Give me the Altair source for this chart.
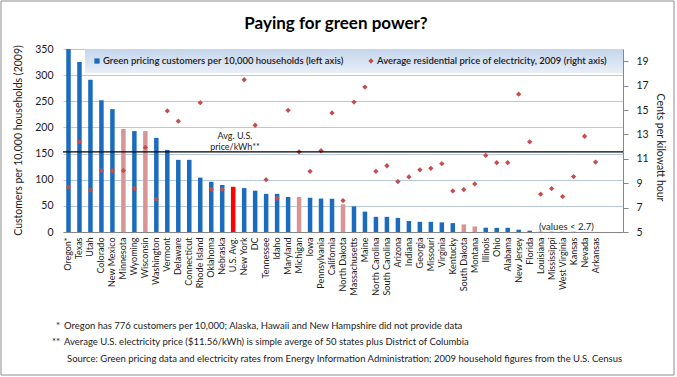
import altair as alt
import pandas as pd

states = ["Oregon*", "Texas", "Utah", "Colorado", "New Mexico", "Minnesota", "Wyoming",
          "Wisconsin", "Washington", "Vermont", "Delaware", "Connecticut", "Rhode Island",
          "Oklahoma", "Nebraska", "U.S. Avg.", "New York", "DC", "Tennessee", "Idaho",
          "Maryland", "Michigan", "Iowa", "Pennsylvania", "California", "North Dakota",
          "Massachusetts", "Maine", "North Carolina", "South Carolina", "Arizona", "Indiana",
          "Georgia", "Missouri", "Virginia", "Kentucky", "South Dakota", "Montana", "Illinois",
          "Ohio", "Alabama", "New Jersey", "Florida", "Louisiana", "Mississippi",
          "West Virginia", "Kansas", "Nevada", "Arkansas"]

customers = [776, 325, 291, 252, 235, 197, 193, 193, 180, 157, 138, 138, 104, 96, 90,
             86.5, 84, 79, 73, 73, 67, 67, 65.5, 64, 63.6, 53, 49, 39, 29, 29, 27, 21,
             19.5, 19.5, 18.4, 17, 14.5, 10.7, 8.2, 8, 8, 4.4, 2.5, 0.6, 0.5, 0.4, 0.3,
             0.2, 0.1]

prices = [8.67, 12.39, 8.45, 10.03, 10.03, 10.03, 8.56, 11.93, 7.66, 14.92, 14.08, 18.5,
          15.6, 8.5, 8.5, None, 17.48, 13.75, 9.29, 7.77, 14.97, 11.57, 9.97, 11.66, 14.76,
          7.58, 15.65, 16.88, 9.97, 10.43, 9.13, 9.51, 10.1, 10.22, 10.6, 8.37, 8.48, 8.94,
          11.28, 10.68, 10.68, 16.3, 12.39, 8.1, 8.56, 7.9, 9.54, 12.85, 10.73]

partial_states = ["Minnesota", "Wisconsin", "Michigan", "North Dakota", "South Dakota", "Montana"]
avg_label = "U.S. Avg."
us_avg_price = 11.56
blank_slots = [" ", "  "]
left_ticks = [0, 50, 100, 150, 200, 250, 300, 350]
right_ticks = [5, 7, 9, 11, 13, 15, 17, 19]

kind = ["avg" if s == avg_label else ("partial" if s in partial_states else "full") for s in states]
df = pd.DataFrame({"state": states, "customers": customers, "price": prices, "kind": kind})

FONT = "Lato"
BLUE = "#1b6cbf"
PINK = "#d99594"
RED = "#ff0000"
DIAMOND = "#c0504d"
TXT = "#1a1a1a"
W, H = 560, 183

x_enc = alt.X("state:N", sort=None,
              scale=alt.Scale(domain=states + blank_slots, paddingInner=0, paddingOuter=0),
              axis=alt.Axis(title=None, labelAngle=270, labelFontSize=9, labelPadding=5,
                            ticks=False, domainColor="#868686", labelColor=TXT,
                            labelFont=FONT, labelLimit=0))

bars = alt.Chart(df).mark_bar(size=4.5, clip=True).encode(
    x=x_enc,
    y=alt.Y("customers:Q",
            scale=alt.Scale(domain=[0, 350], nice=False, zero=True),
            axis=alt.Axis(values=left_ticks, title="Customers per 10,000 households (2009)",
                          grid=True, gridColor="#b9c8db", domain=False, ticks=False,
                          labelPadding=10, labelFontSize=10.5, labelFont=FONT,
                          labelColor=TXT, titleFont=FONT, titleFontSize=10.5,
                          titleFontWeight="normal", titleColor=TXT, titleAngle=270,
                          titleX=-45, titleY=91, titleAlign="center",
                          titleBaseline="middle")),
    color=alt.Color("kind:N", scale=alt.Scale(domain=["full", "partial", "avg"],
                                              range=[BLUE, PINK, RED]), legend=None),
)

points = alt.Chart(df).mark_point(shape="diamond", filled=True, size=28, color=DIAMOND,
                                  opacity=1).encode(
    x=x_enc,
    y=alt.Y("price:Q",
            scale=alt.Scale(domain=[5, 20], nice=False, zero=False),
            axis=alt.Axis(orient="right", values=right_ticks, grid=False,
                          title="Cents per kilowatt hour", domainColor="#868686",
                          tickColor="#868686", tickSize=5, labelPadding=8,
                          labelFontSize=10.5, labelFont=FONT, labelColor=TXT,
                          titleFont=FONT, titleFontSize=10.5, titleFontWeight="normal",
                          titleColor=TXT, titleAngle=90, titleX=36, titleY=98,
                          titleAlign="center", titleBaseline="middle")),
)

avg_rule = alt.Chart(alt.Data(values=[{"p": us_avg_price}])).mark_rule(
    color="black", strokeWidth=1.3).encode(
    y=alt.Y("p:Q", scale=alt.Scale(domain=[5, 20], nice=False, zero=False), axis=None))

one = alt.Data(values=[{}])

def txt(text, x, y, size=9, weight="normal", align="left", baseline="middle", color=TXT):
    return alt.Chart(one).mark_text(text=text, font=FONT, fontSize=size, fontWeight=weight,
                                    align=align, baseline=baseline, color=color).encode(
        x=alt.value(x), y=alt.value(y))

legend_box = alt.Chart(one).mark_rect(
    color=alt.LinearGradient(gradient="linear",
                             stops=[alt.GradientStop(color="#c4d5ec", offset=0),
                                    alt.GradientStop(color="#e9eff8", offset=1)],
                             x1=0, x2=0, y1=0, y2=1)).encode(
    x=alt.value(22), x2=alt.value(W), y=alt.value(0), y2=alt.value(24))

leg_sq = alt.Chart(one).mark_point(shape="square", filled=True, size=28, color=BLUE,
                                   opacity=1).encode(x=alt.value(34), y=alt.value(12))
leg_dia = alt.Chart(one).mark_point(shape="diamond", filled=True, size=28, color=DIAMOND,
                                    opacity=1).encode(x=alt.value(308), y=alt.value(12))

frame = alt.Chart(one).mark_rect(fillOpacity=0, stroke="#8c8c8c", strokeWidth=1).encode(
    x=alt.value(-62), x2=alt.value(611), y=alt.value(-48), y2=alt.value(326))

layers = [
    frame, bars, points, avg_rule, legend_box, leg_sq, leg_dia,
    txt("Green pricing customers per 10,000 households (left axis)", 40, 12, size=9.5,
        weight=600),
    txt("Average residential price of electricity, 2009 (right axis)", 314, 12, size=9.5,
        weight=600),
    txt("Avg. U.S.", 172, 87, size=9, align="center"),
    txt("price/kWh**", 172, 98, size=9, align="center"),
    txt("(values < 2.7)", 476, 178, size=9.5),
    txt("Paying for green power?", 273, -20, size=17, weight="bold", align="center",
        baseline="alphabetic", color="#000000"),
    txt("*", -3, 277, size=9.5, align="right"),
    txt("Oregon has 776 customers per 10,000; Alaska, Hawaii and New Hampshire did not provide data",
        1, 277, size=9.5),
    txt("**", -3, 293, size=9.5, align="right"),
    txt("Average U.S. electricity price  ($11.56/kWh) is simple averge of 50 states plus District of Columbia",
        1, 293, size=9.5),
    txt("Source: Green pricing data and electricity rates from Energy Information Administration; 2009 household figures from the U.S. Census",
        4, 310, size=9.5),
]

chart = alt.layer(*layers).resolve_scale(y="independent").properties(
    width=W, height=H,
    autosize=alt.AutoSizeParams(type="none"),
    padding={"left": 63, "top": 49, "right": 54, "bottom": 145},
    background="white",
).configure_view(strokeWidth=0)

chart.save("out.html", embed_options={"renderer": "svg", "actions": False})
